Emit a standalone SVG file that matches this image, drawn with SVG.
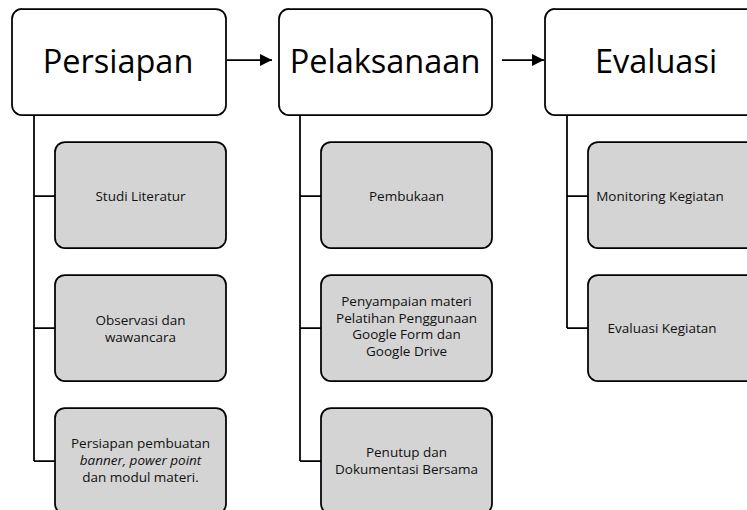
<svg xmlns="http://www.w3.org/2000/svg" width="747" height="510" viewBox="0 0 747 510">
<style>
.hd{fill:#fff;stroke:#000;stroke-width:1.75}
.ch{fill:#d4d4d4;stroke:#000;stroke-width:1.75}
.ht{font-family:"Open Sans","Noto Sans",sans-serif;font-size:32.5px;fill:#000;text-anchor:middle}
.ct{font-family:"Open Sans","Noto Sans",sans-serif;font-size:13.5px;fill:#111;text-anchor:middle}
.ln{fill:none;stroke:#000;stroke-width:1.75}
</style>
<defs>
<marker id="ah" viewBox="0 0 12 12" refX="12" refY="6" markerWidth="12" markerHeight="12" markerUnits="userSpaceOnUse" orient="auto">
<path d="M0,0 L12,6 L0,12 z" fill="#000"/>
</marker>
</defs>
<rect width="747" height="510" fill="#fff"/>
<g id="connectors">
<path class="ln" d="M34,115 V461 M34,196 H55 M34,328 H55 M34,461 H55"/>
<path class="ln" d="M300,115 V461 M300,196 H321 M300,328 H321 M300,461 H321"/>
<path class="ln" d="M567,115 V328 M567,196 H588 M567,328 H588"/>
<path class="ln" d="M227,60 H272" marker-end="url(#ah)"/>
<path class="ln" d="M502,60 H544" marker-end="url(#ah)"/>
</g>
<g id="persiapan">
<rect class="hd" x="12" y="9" width="214" height="106" rx="10"/>
<text class="ht" x="118" y="73">Persiapan</text>
</g>
<g id="pelaksanaan">
<rect class="hd" x="279" y="9" width="213" height="106" rx="10"/>
<text class="ht" x="385" y="73">Pelaksanaan</text>
</g>
<g id="evaluasi">
<rect class="hd" x="545" y="9" width="220" height="106" rx="10"/>
<text class="ht" x="656" y="73">Evaluasi</text>
</g>
<g id="studi">
<rect class="ch" x="55" y="142" width="171" height="106" rx="10"/>
<text class="ct" x="140.5" y="200.5">Studi Literatur</text>
</g>
<g id="observasi">
<rect class="ch" x="55" y="275" width="171" height="106" rx="10"/>
<text class="ct" x="140.5" y="324.5">Observasi dan</text>
<text class="ct" x="140.5" y="341.5">wawancara</text>
</g>
<g id="persiapan-pembuatan">
<rect class="ch" x="55" y="408" width="171" height="106" rx="10"/>
<text class="ct" x="140.5" y="447.5">Persiapan pembuatan</text>
<text class="ct" x="140.5" y="464.5"><tspan font-style="italic">banner, power point</tspan></text>
<text class="ct" x="140.5" y="481.5">dan modul materi.</text>
</g>
<g id="pembukaan">
<rect class="ch" x="321" y="142" width="171" height="106" rx="10"/>
<text class="ct" x="406.5" y="200.5">Pembukaan</text>
</g>
<g id="penyampaian">
<rect class="ch" x="321" y="275" width="171" height="106" rx="10"/>
<text class="ct" x="406.5" y="306">Penyampaian materi</text>
<text class="ct" x="406.5" y="322.5">Pelatihan Penggunaan</text>
<text class="ct" x="406.5" y="339">Google Form dan</text>
<text class="ct" x="406.5" y="355.5">Google Drive</text>
</g>
<g id="penutup">
<rect class="ch" x="321" y="408" width="171" height="106" rx="10"/>
<text class="ct" x="406.5" y="456.5">Penutup dan</text>
<text class="ct" x="406.5" y="473.5">Dokumentasi Bersama</text>
</g>
<g id="monitoring">
<rect class="ch" x="588" y="142" width="180" height="106" rx="10"/>
<text class="ct" x="660" y="200.5">Monitoring Kegiatan</text>
</g>
<g id="evaluasi-kegiatan">
<rect class="ch" x="588" y="275" width="180" height="106" rx="10"/>
<text class="ct" x="662" y="332.5">Evaluasi Kegiatan</text>
</g>
</svg>
